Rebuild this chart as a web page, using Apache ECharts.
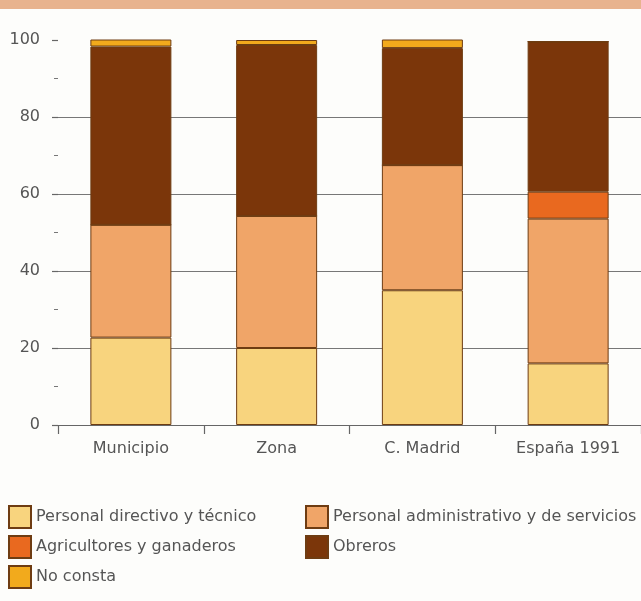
<!DOCTYPE html>
<html><head><meta charset="utf-8">
<script src="https://cdn.jsdelivr.net/npm/echarts@6/dist/echarts.min.js"></script>
<style>html,body{margin:0;padding:0;background:#fdfdfb}#c{width:641px;height:601px}</style>
</head><body><div id="c"></div>
<script>
const categories = ['Municipio', 'Zona', 'C. Madrid', 'España 1991'];
const directivo = [22.7, 20, 35, 16];
const administrativo = [29.3, 34.3, 32.5, 37.6];
const agricultores = [0, 0, 0, 7];
const obreros = [46.3, 44.4, 30.4, 39];
const noConsta = [2, 1.3, 2.3, 0];
const yTicks = [0, 20, 40, 60, 80, 100];

const names = ['Personal directivo y técnico', 'Personal administrativo y de servicios', 'Agricultores y ganaderos', 'Obreros', 'No consta'];
const colors = ['#f8d47e', '#f0a568', '#e9691f', '#7b360a', '#f2aa1c'];
const values = [directivo, administrativo, agricultores, obreros, noConsta];

const chart = echarts.init(document.getElementById('c'));
const font = 'DejaVu Sans, sans-serif';
const legendBase = {orient: 'vertical', icon: 'rect', itemWidth: 22, itemHeight: 22, itemGap: 6, padding: 0, height: 120,
  textStyle: {color: '#555', fontSize: 16, fontFamily: font}};
chart.setOption({
  backgroundColor: '#fdfdfb',
  animation: false,
  graphic: [{type: 'rect', left: 0, top: 0, shape: {width: 641, height: 9}, style: {fill: '#e8b38e'}}],
  grid: {left: 58, right: 0, top: 40, bottom: 176},
  legend: [
    Object.assign({data: [names[0], names[2], names[4]], left: 8, top: 505}, legendBase),
    Object.assign({data: [names[1], names[3]], left: 305, top: 505}, legendBase)
  ],
  xAxis: {
    type: 'category', data: categories,
    axisLine: {lineStyle: {color: '#666', width: 1.2}},
    axisTick: {show: true, length: 9, lineStyle: {color: '#666', width: 1.2}},
    axisLabel: {color: '#555', fontSize: 16, fontFamily: font, margin: 16}
  },
  yAxis: {
    type: 'value', min: yTicks[0], max: yTicks[yTicks.length - 1], interval: 20,
    axisLine: {show: false},
    axisTick: {show: true, length: 6, lineStyle: {color: '#666', width: 1.2}},
    minorTick: {show: true, splitNumber: 2, length: 4, lineStyle: {color: '#777'}},
    axisLabel: {color: '#555', fontSize: 16, fontFamily: font, margin: 18},
    splitLine: {show: true, lineStyle: {color: ['rgba(0,0,0,0)', '#777', '#777', '#777', '#777', 'rgba(0,0,0,0)'], width: 1.2}}
  },
  series: names.map((n, i) => ({
    name: n, type: 'bar', stack: 'total', data: values[i], barWidth: 81,
    itemStyle: {color: colors[i], borderColor: '#6e3c12', borderWidth: 1}
  }))
});
</script></body></html>
